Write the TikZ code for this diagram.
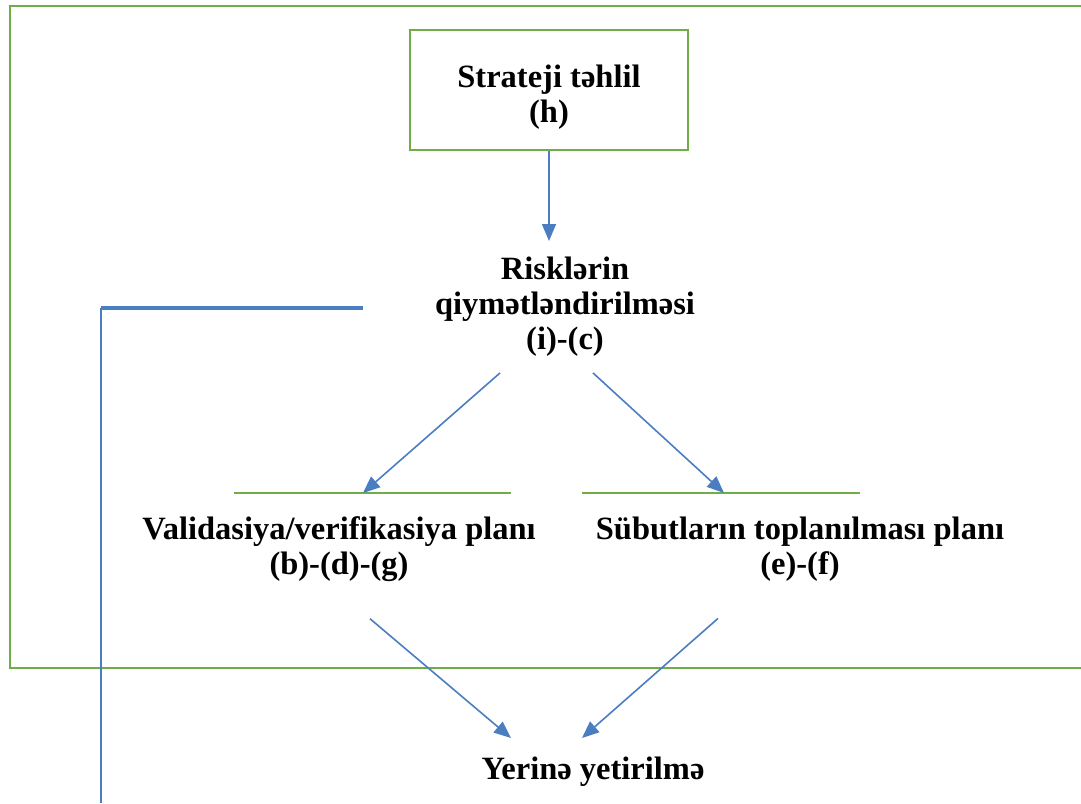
\documentclass[tikz,border=0pt]{standalone}
\usepackage{fontspec}
\setmainfont{Liberation Serif}
\usetikzlibrary{calc,arrows.meta}
\definecolor{grn}{RGB}{112,173,71}
\definecolor{blu}{RGB}{74,126,193}
\tikzset{
  lbl/.style={font=\bfseries\fontsize{32.5}{35}\selectfont, align=center, inner sep=0pt},
  gbox/.style={draw=grn, line width=2.6pt},
  arr/.style={draw=blu, line width=1.6pt, -{Triangle[length=17pt,width=14pt]}},
  bline/.style={draw=blu, line width=1.8pt},
}
\begin{document}
\begin{tikzpicture}[x=1pt,y=-1pt]
\useasboundingbox (0,0) rectangle (1081,803);
\clip (0,0) rectangle (1081,803);
% outer frame
\draw[gbox] (10,6) rectangle (1090,668);
% top box
\node[gbox, minimum width=278pt, minimum height=120pt, inner sep=0pt] (strat) at (549,90) {};
\node[lbl] (strattxt) at (549,97) {Strateji təhlil\\(h)};
% risk
\node[lbl] (risk) at (565,307) {Risklərin\\qiymətləndirilməsi\\(i)-(c)};
% plans
\node[lbl] (valid) at (339,549) {Validasiya/verifikasiya planı\\(b)-(d)-(g)};
\node[lbl] (subut) at (800,549) {Sübutların toplanılması planı\\(e)-(f)};
\coordinate (vtopL) at (234,493);
\coordinate (vtopR) at (511,493);
\coordinate (stopL) at (582,493);
\coordinate (stopR) at (860,493);
\draw[draw=grn, line width=2.2pt] (vtopL) -- (vtopR);
\draw[draw=grn, line width=2.2pt] (stopL) -- (stopR);
% final
\node[lbl] (yer) at (593,772) {Yerinə yetirilmə};
% arrows
\coordinate (riskIn) at (strat.south |- 0,241);
\draw[arr] (strat.south) -- (riskIn);
\draw[arr] ($(risk.south)+(-65,16)$) -- (363,493);
\draw[arr] ($(risk.south)+(28,16)$) -- (724,493);
\draw[arr] ($(valid.south)+(31,37)$) -- (511,738);
\draw[arr] ($(subut.south)+(-82,37)$) -- (582,738);
% blue feedback line
\coordinate (fbA) at (363,308);
\coordinate (fbB) at (101,308);
\coordinate (fbC) at (101,803);
\draw[draw=blu, line width=3.5pt] (fbA) -- (fbB);
\draw[bline] (fbB) -- (fbC);
\end{tikzpicture}
\end{document}
